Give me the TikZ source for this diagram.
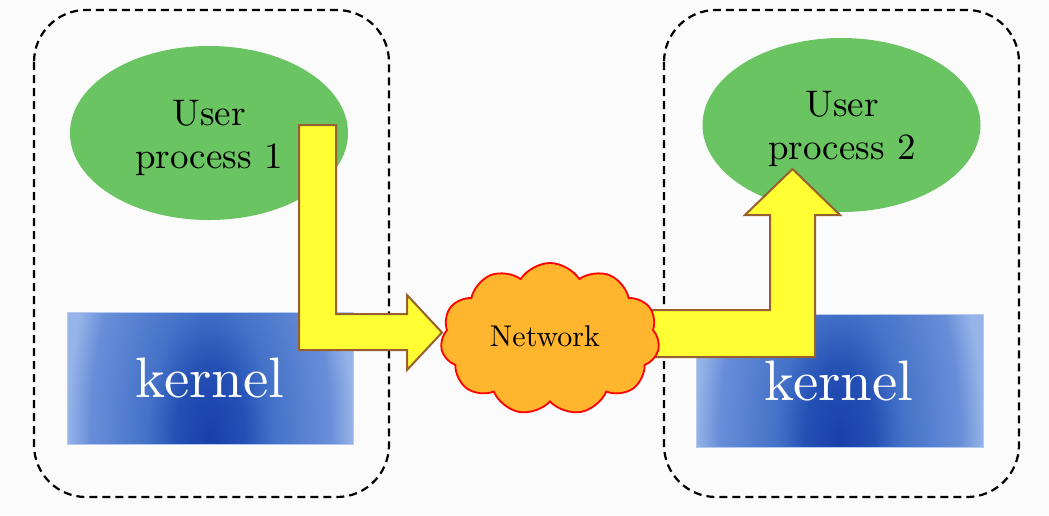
\documentclass[tikz,border=0pt]{standalone}
\usepackage{fontspec}
\newfontfamily\lmten{lmroman10-regular.otf}
\usetikzlibrary{shapes.geometric,shapes.symbols}
\definecolor{bgc}{HTML}{FBFBFB}
\definecolor{ugreen}{HTML}{69C461}
\definecolor{ayellow}{HTML}{FFFF33}
\definecolor{abrown}{HTML}{98602E}
\definecolor{corange}{HTML}{FFB52E}
\definecolor{kedge}{HTML}{B4CAF0}
\pgfdeclareradialshading{kernshade}{\pgfpoint{0bp}{0bp}}{%
  color(0bp)=(rgb,255:red,26;green,64;blue,168);
  color(6bp)=(rgb,255:red,36;green,80;blue,180);
  color(11bp)=(rgb,255:red,68;green,114;blue,200);
  color(21bp)=(rgb,255:red,104;green,142;blue,216);
  color(25bp)=(rgb,255:red,150;green,180;blue,232);
  color(50bp)=(rgb,255:red,150;green,180;blue,232)}
\tikzset{
  hostbox/.style={draw=black, line width=2.2pt, dash pattern=on 8pt off 5pt, rounded corners=52pt},
  procell/.style={ellipse, fill=ugreen, minimum width=278pt, minimum height=174pt, inner sep=0pt},
  proctext/.style={align=center, font=\lmten\fontsize{37}{43}\selectfont, text=black},
  kerntext/.style={font=\lmten\fontsize{57}{60}\selectfont, text=white, anchor=base},
  blockarrow/.style={fill=ayellow, draw=abrown, line width=2pt, line join=miter},
  netcloud/.style={cloud, cloud puffs=11, cloud puff arc=115, aspect=1.44, draw=red, fill=corange, line width=1.8pt, minimum width=219pt, minimum height=152pt, inner sep=0pt},
  nettext/.style={font=\lmten\fontsize{30}{34}\selectfont, text=black}
}
\begin{document}
\begin{tikzpicture}[x=1pt,y=-1pt]
\useasboundingbox (0,0) rectangle (1049,515);
\fill[bgc] (0,0) rectangle (1049,515);
% host boxes
\draw[hostbox] (34,10) rectangle (389,497);
\draw[hostbox] (664,10) rectangle (1019,497);
% user processes
\node[procell] (p1) at (209,133) {};
\node[procell] (p2) at (841.5,125) {};
\node[proctext] (p1t) at (209,138) {User\\process 1};
\node[proctext] (p2t) at (842,129) {User\\process 2};
% kernels
\begin{scope}
  \clip (67,312) rectangle (353,444);
  \shade[shading=kernshade] (67,138) rectangle (353,738);
\end{scope}
\draw[kedge, line width=1pt] (67,312) rectangle (353,444);
\node[inner sep=0pt] (k1) at (210,378) {};
\node[kerntext] (k1t) at (210,397) {kernel};
\begin{scope}
  \clip (696,314) rectangle (983,447);
  \shade[shading=kernshade] (696,141) rectangle (983,741);
\end{scope}
\draw[kedge, line width=1pt] (696,314) rectangle (983,447);
\node[inner sep=0pt] (k2) at (839.5,380) {};
\node[kerntext] (k2t) at (839,400) {kernel};
% arrows
\draw[blockarrow] (299,125) -- (336,125) -- (336,314) -- (407,314) -- (407,295) -- (442,332.5) -- (407,370) -- (407,350) -- (299,350) -- cycle;
\draw[blockarrow] (620,310) -- (770,310) -- (770,215) -- (745,215) -- (792.5,169) -- (840,215) -- (815,215) -- (815,357) -- (620,357) -- cycle;
% network
\node[netcloud] (net) at (550,339) {};
\node[nettext] (nett) at (545,336) {Network};
\end{tikzpicture}
\end{document}
